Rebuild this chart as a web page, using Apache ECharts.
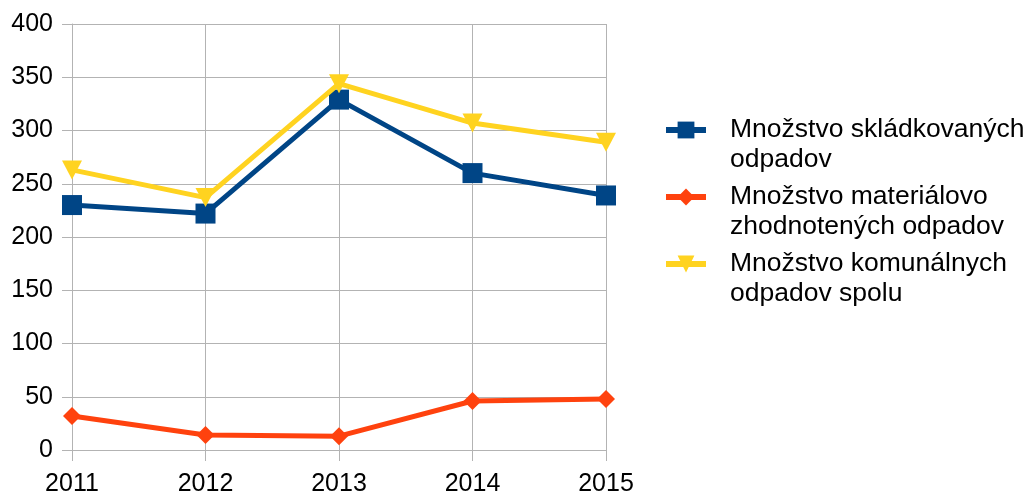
<!DOCTYPE html>
<html>
<head>
<meta charset="utf-8">
<script src="https://cdn.jsdelivr.net/npm/echarts@6/dist/echarts.min.js"></script>
<style>
html,body{margin:0;padding:0;background:#fff;}
#chart{width:1030px;height:497px;}
</style>
</head>
<body>
<div id="chart"></div>
<script>
const years = ['2011', '2012', '2013', '2014', '2015'];
const skladkovane = [230, 222, 329, 260, 239];
const materialovo = [32, 14, 13, 46, 48];
const komunalne = [263, 237, 344, 307, 289];
const seriesNames = [
  'Množstvo skládkovaných odpadov',
  'Množstvo materiálovo zhodnotených odpadov',
  'Množstvo komunálnych odpadov spolu'
];
const legendLines = {
  'Množstvo skládkovaných odpadov': 'Množstvo skládkovaných\nodpadov',
  'Množstvo materiálovo zhodnotených odpadov': 'Množstvo materiálovo\nzhodnotených odpadov',
  'Množstvo komunálnych odpadov spolu': 'Množstvo komunálnych\nodpadov spolu'
};

const FONT = '"Liberation Sans", Arial, sans-serif';
const chart = echarts.init(document.getElementById('chart'), null, {renderer: 'canvas'});
chart.setOption({
  animation: false,
  backgroundColor: '#ffffff',
  grid: {left: 72, right: 424, top: 24, bottom: 46, containLabel: false},
  xAxis: {
    type: 'category',
    data: years,
    boundaryGap: false,
    axisLine: {lineStyle: {color: '#b3b3b3', width: 1}},
    axisTick: {show: true, length: 11, inside: false, lineStyle: {color: '#b3b3b3'}},
    axisLabel: {color: '#000', fontSize: 25, fontFamily: FONT, margin: 22},
    splitLine: {show: true, lineStyle: {color: '#b3b3b3', width: 1}}
  },
  yAxis: {
    type: 'value',
    min: 0, max: 400, interval: 50,
    axisLine: {show: true, lineStyle: {color: '#b3b3b3', width: 1}},
    axisTick: {show: true, length: 10, inside: false, lineStyle: {color: '#b3b3b3'}},
    axisLabel: {color: '#000', fontSize: 25, fontFamily: FONT, margin: 19},
    splitLine: {show: true, lineStyle: {color: '#b3b3b3', width: 1}}
  },
  legend: {
    orient: 'vertical',
    left: 663, top: 85,
    padding: 0,
    itemGap: -23,
    itemWidth: 40, itemHeight: 21,
    lineStyle: {width: 6},
    data: seriesNames,
    formatter: n => '\n' + legendLines[n],
    textStyle: {color: '#000', fontSize: 26.5, fontFamily: FONT, lineHeight: 30, padding: [0, 0, 0, 19]}
  },
  series: [
    {
      name: seriesNames[0], type: 'line', data: skladkovane,
      symbol: 'rect', symbolSize: 20,
      lineStyle: {width: 5, color: '#004586'},
      itemStyle: {color: '#004586'},
      z: 3
    },
    {
      name: seriesNames[1], type: 'line', data: materialovo,
      symbol: 'diamond', symbolSize: [18, 18],
      lineStyle: {width: 5, color: '#ff420e'},
      itemStyle: {color: '#ff420e'},
      z: 3
    },
    {
      name: seriesNames[2], type: 'line', data: komunalne,
      symbol: 'triangle', symbolRotate: 180, symbolSize: [20, 19],
      lineStyle: {width: 5, color: '#ffd320'},
      itemStyle: {color: '#ffd320'},
      z: 4
    }
  ]
});
</script>
</body>
</html>
